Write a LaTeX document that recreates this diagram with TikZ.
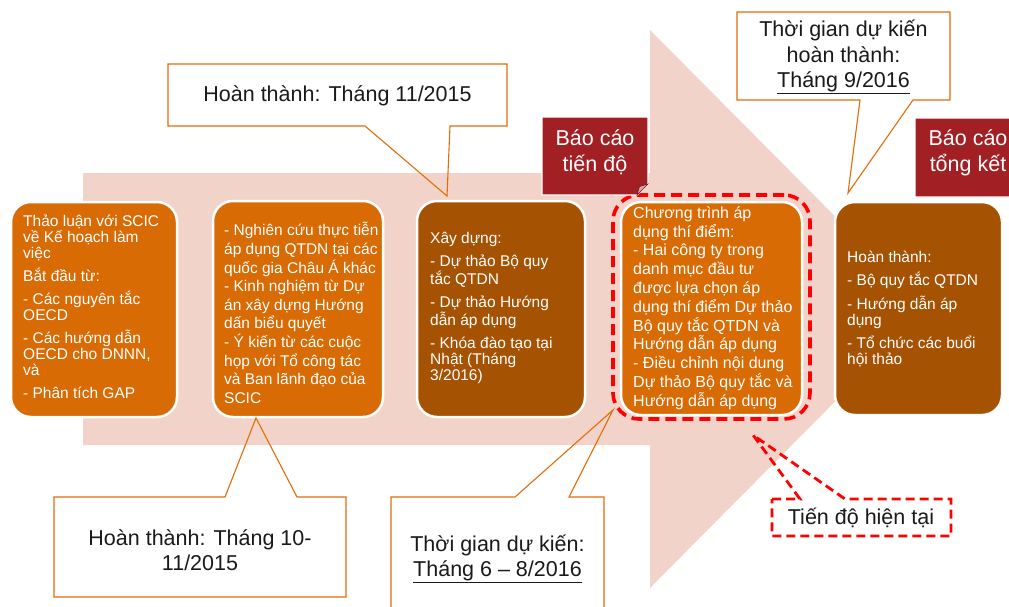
\documentclass[tikz,border=0pt]{standalone}
\usepackage{fontspec}
\setmainfont{Liberation Sans}
\definecolor{bandpink}{HTML}{F2D3CA}
\definecolor{boxorange}{HTML}{D96B05}
\definecolor{boxbrown}{HTML}{A65203}
\definecolor{reportred}{HTML}{A21F24}
\definecolor{foldtone}{HTML}{D9A9A9}
\definecolor{calloutline}{HTML}{E36C09}
\definecolor{calltextcol}{HTML}{1A1A1A}
\tikzset{
  stage/.style={draw=white, line width=2.5pt, rounded corners=20pt, inner sep=0pt},
  stagetext/.style={text=white, align=left, inner sep=0pt, anchor=west,
    font=\fontsize{15.5}{16}\selectfont},
  stagetextwide/.style={stagetext, font=\fontsize{15.5}{18.6}\selectfont},
  stagetextbig/.style={stagetext, font=\fontsize{16}{18.8}\selectfont},
  callline/.style={draw=calloutline, line width=1.1pt, line join=miter},
  calltext/.style={text=calltextcol, align=center, inner sep=0pt,
    font=\fontsize{21.5}{25.5}\selectfont},
  reportbox/.style={fill=reportred, draw=white, line width=1.2pt},
  reportfold/.style={fill=foldtone, draw=reportred!70!black, line width=0.6pt},
  reporttext/.style={text=white, align=center, inner sep=0pt,
    font=\fontsize{21.5}{26}\selectfont},
  nowline/.style={draw=red, line width=3.6pt, dash pattern=on 11pt off 6pt},
  nowcall/.style={draw=red, line width=2.8pt, dash pattern=on 9pt off 5pt, line join=miter}
}
\begin{document}
\begin{tikzpicture}[x=1pt,y=-1pt]
\clip (0,0) rectangle (1009,606);
\fill[white] (0,0) rectangle (1009,606);

% timeline arrow in the background
\fill[bandpink] (83,173) -- (650,173) -- (650,30) -- (927,309)
  -- (650,588) -- (650,445) -- (83,445) -- cycle;

% stage boxes
\node[stage, fill=boxorange, minimum width=166pt, minimum height=215pt] (b1) at (94,309.5) {};
\node[stage, fill=boxorange, minimum width=170pt, minimum height=216pt] (b2) at (298,309) {};
\node[stage, fill=boxbrown, minimum width=168pt, minimum height=216pt] (b3) at (501,309) {};
\node[stage, fill=boxorange, minimum width=181pt, minimum height=213pt] (b4) at (711.5,308.5) {};
\node[stage, fill=boxbrown, minimum width=167pt, minimum height=213pt] (b5) at (918.5,308.5) {};

% stage texts
\node[stagetext] (t1) at (23,307) {Thảo luận với SCIC\\về Kế hoạch làm\\việc\\[7pt]
  Bắt đầu từ:\\[7pt]- Các nguyên tắc\\OECD\\[7pt]- Các hướng dẫn\\OECD cho DNNN,\\và\\[7pt]- Phân tích GAP};
\node[stagetextwide] (t2) at (224,313) {- Nghiên cứu thực tiễn\\áp dụng QTDN tại các\\quốc gia Châu Á khác\\
  - Kinh nghiệm từ Dự\\án xây dựng Hướng\\dấn biểu quyết\\- Ý kiến từ các cuộc\\họp với Tổ công tác\\
  và Ban lãnh đạo của\\SCIC};
\node[stagetext] (t3) at (430,308) {Xây dựng:\\[7pt]- Dự thảo Bộ quy\\tắc QTDN\\[7pt]
  - Dự thảo Hướng\\dẫn áp dụng\\[7pt]- Khóa đào tạo tại\\Nhật (Tháng\\3/2016)};
\node[stagetextbig] (t4) at (633,308) {Chương trình áp\\dụng thí điểm:\\- Hai công ty trong\\
  danh mục đầu tư\\được lựa chọn áp\\dụng thí điểm Dự thảo\\Bộ quy tắc QTDN và\\
  Hướng dẫn áp dụng\\- Điều chỉnh nội dung\\Dự thảo Bộ quy tắc và\\Hướng dẫn áp dụng};
\node[stagetext] (t5) at (847,309) {Hoàn thành:\\[7pt]- Bộ quy tắc QTDN\\[7pt]
  - Hướng dẫn áp\\dụng\\[7pt]- Tổ chức các buổi\\hội thảo};

% current stage marker
\node[nowline, rounded corners=26pt, minimum width=197pt, minimum height=224pt, inner sep=0pt] (cur) at (711.5,307) {};

% report labels
\draw[reportbox] (542,117) -- (648,117) -- (648,184) -- (637,195) -- (542,195) -- cycle;
\draw[reportfold] (637,195) -- (648,184) -- (639.5,186.5) -- cycle;
\node[reporttext] (r1) at (595,152) {Báo cáo\\tiến độ};
\draw[reportbox] (915,118) -- (1021,118) -- (1021,186) -- (1010,197) -- (915,197) -- cycle;
\draw[reportfold] (1010,197) -- (1021,186) -- (1012.5,188.5) -- cycle;
\node[reporttext] (r2) at (968,153) {Báo cáo\\tổng kết};

% callout pointers
\coordinate (p1) at (447,196);
\coordinate (p2) at (848,193);
\coordinate (p3) at (256,418);
\coordinate (p4) at (613,410);
\coordinate (p5) at (753,435);

% callouts
\draw[callline] (168,64) -- (507,64) -- (507,126) -- (450,126) -- (p1) -- (365,126) -- (168,126) -- cycle;
\node[calltext] (c1) at (337.5,96) {Hoàn thành: Tháng 11/2015};

\draw[callline] (737,12) -- (950,12) -- (950,100) -- (913,100) -- (p2) -- (860,100) -- (737,100) -- cycle;
\node[calltext] (c2) at (843.5,57) {Thời gian dự kiến\\hoàn thành:\\\underline{Tháng 9/2016}};

\draw[callline] (54,497) -- (225,497) -- (p3) -- (297,497) -- (346,497) -- (346,597) -- (54,597) -- cycle;
\node[calltext] (c3) at (200,550) {Hoàn thành: Tháng 10-\\11/2015};

\draw[callline] (391,497) -- (515,497) -- (p4) -- (569,497) -- (604,497) -- (604,620) -- (391,620) -- cycle;
\node[calltext] (c4) at (497.5,559) {Thời gian dự kiến:\\\underline{Tháng 6 – 8/2016}};

\draw[nowcall] (772,499) -- (800,499) -- (p5) -- (845,499) -- (951,499) -- (951,536) -- (772,536) -- cycle;
\node[calltext] (c5) at (861,517.5) {Tiến độ hiện tại};
\end{tikzpicture}
\end{document}
